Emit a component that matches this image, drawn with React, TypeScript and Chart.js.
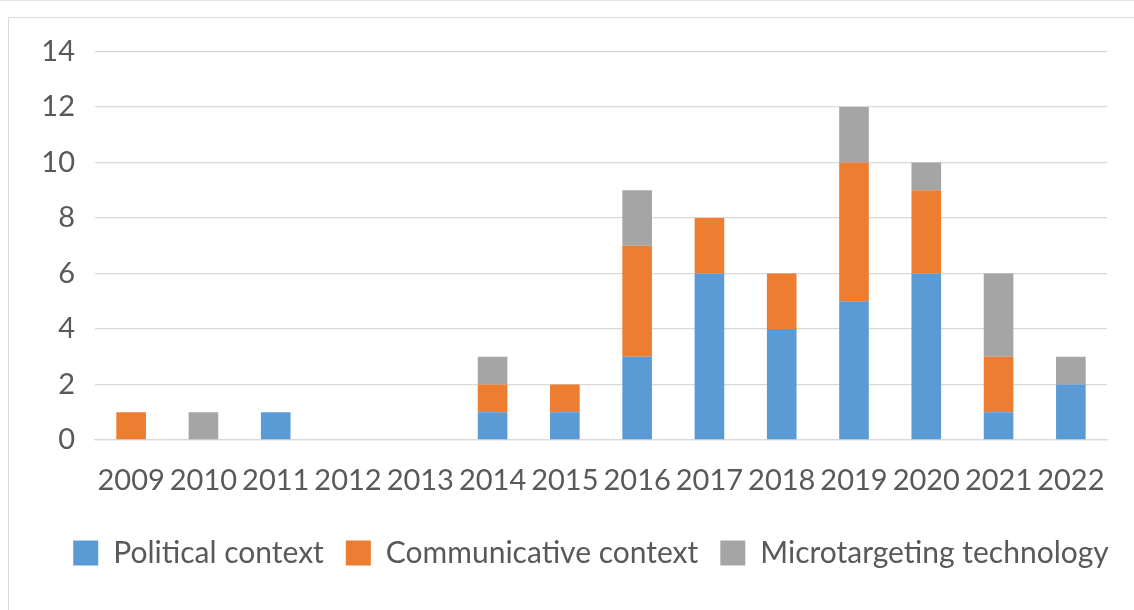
import React, { useEffect, useRef } from "react";
import { Chart, registerables } from "chart.js";

Chart.register(...registerables);

const categories = ["2009", "2010", "2011", "2012", "2013", "2014", "2015", "2016", "2017", "2018", "2019", "2020", "2021", "2022"];
const politicalContext = [0, 0, 1, 0, 0, 1, 1, 3, 6, 4, 5, 6, 1, 2];
const communicativeContext = [1, 0, 0, 0, 0, 1, 1, 4, 2, 2, 5, 3, 2, 0];
const microtargetingTechnology = [0, 1, 0, 0, 0, 1, 0, 2, 0, 0, 2, 1, 3, 1];
const seriesNames = ["Political context", "Communicative context", "Microtargeting technology"];
const seriesColors = ["#5B9BD5", "#ED7D31", "#A5A5A5"];

const FONT = "Lato";
const TEXT = "#595959";
const GRID = "#d9d9d9";

const shiftLegend = {
  id: "shiftLegend",
  afterLayout(chart: any) {
    const l = chart.legend;
    if (l) {
      l.left += 33;
      l.right += 33;
    }
  },
};

export default function App() {
  const ref = useRef<HTMLCanvasElement | null>(null);

  useEffect(() => {
    if (!ref.current) return;
    const values = [politicalContext, communicativeContext, microtargetingTechnology];
    const chart = new Chart(ref.current, {
      type: "bar",
      data: {
        labels: categories,
        datasets: values.map((v, i) => ({
          label: seriesNames[i],
          data: v,
          backgroundColor: seriesColors[i],
          borderWidth: 0,
          categoryPercentage: 1,
          barPercentage: 0.41,
        })),
      },
      plugins: [shiftLegend],
      options: {
        responsive: false,
        animation: false,
        layout: { padding: { left: 0, right: 64, top: 33.5, bottom: 32 } },
        plugins: {
          tooltip: { enabled: false },
          legend: {
            position: "bottom",
            labels: {
              boxWidth: 25,
              boxHeight: 25,
              padding: 22,
              color: TEXT,
              font: { family: FONT, size: 30 },
            },
          },
        },
        scales: {
          x: {
            stacked: true,
            afterFit: (s: any) => {
              s.height = 76;
            },
            grid: { display: false, drawTicks: false },
            border: { display: true, color: GRID, width: 1.3 },
            ticks: { color: TEXT, font: { family: FONT, size: 29 }, padding: 23, maxRotation: 0, autoSkip: false },
          },
          y: {
            stacked: true,
            min: 0,
            max: 14,
            afterFit: (s: any) => {
              s.width = 86;
            },
            grid: { color: GRID, lineWidth: 1.3, drawTicks: true, tickLength: 20, tickColor: "rgba(0,0,0,0)" },
            border: { display: false },
            ticks: { stepSize: 2, color: TEXT, font: { family: FONT, size: 29 }, padding: 0 },
          },
        },
      },
    });
    return () => chart.destroy();
  }, []);

  return (
    <>
      <div style={{ position: "fixed", left: 0, top: 0, width: "100%", height: 1, background: "#e6e6e6" }} />
      <div
        style={{
          position: "fixed",
          left: 8,
          top: 17,
          width: 1126,
          height: 593,
          borderLeft: "1px solid #d9d9d9",
          borderTop: "1px solid #d9d9d9",
          overflow: "hidden",
          background: "#fff",
        }}
      >
        <canvas ref={ref} width={1162} height={592} style={{ display: "block" }} />
      </div>
    </>
  );
}
